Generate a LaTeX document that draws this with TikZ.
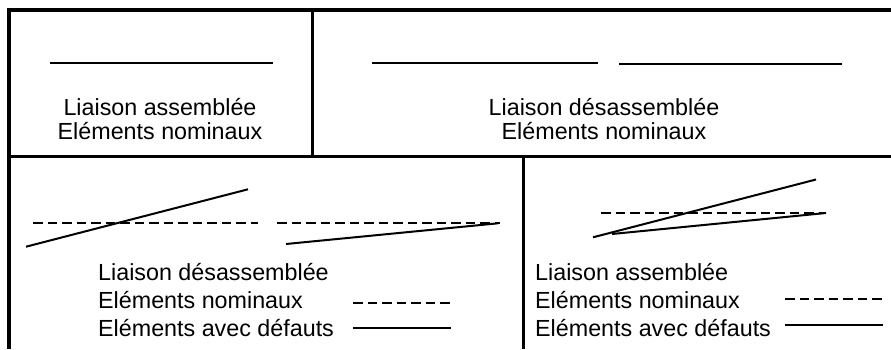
\documentclass[tikz,border=0pt]{standalone}
\usepackage{fontspec}
\setmainfont{Liberation Sans}
\begin{document}
\begin{tikzpicture}[x=1pt,y=-1pt,
  frame/.style={line width=3.2pt},
  divider/.style={line width=3pt},
  shaft/.style={line width=2pt},
  nominal/.style={line width=2pt, dash pattern=on 9.5pt off 5pt},
  lbl/.style={inner sep=0pt, font=\fontsize{23.3}{24}\selectfont},
  leg/.style={lbl, anchor=base west}
]
\useasboundingbox (0,0) rectangle (891,349);
\clip (0,0) rectangle (891,349);
% frame and dividers
\draw[frame] (9,349) -- (9,10) -- (891,10);
\draw[divider] (9,156) -- (891,156);
\draw[divider] (312,10) -- (312,156);
\draw[divider] (523,156) -- (523,349);

% top-left cell
\draw[shaft] (50,63) -- (273,63);
\node[lbl, anchor=base] (tl1) at (160,115) {Liaison assemblée};
\node[lbl, anchor=base] (tl2) at (160,139) {Eléments nominaux};

% top-right cell
\draw[shaft] (372,63) -- (598,63);
\draw[shaft] (619,64) -- (842,64);
\node[lbl, anchor=base] (tr1) at (604,115) {Liaison désassemblée};
\node[lbl, anchor=base] (tr2) at (604,139) {Eléments nominaux};

% bottom-left cell
\draw[nominal] (33,222.7) -- (258,222.7);
\draw[nominal] (277,222.7) -- (500,222.7);
\draw[shaft] (26,246.7) -- (248,189.3);
\draw[shaft] (286,244) -- (498,223.3);
\node[leg] (bl1) at (98,280) {Liaison désassemblée};
\node[leg] (bl2) at (98,308) {Eléments nominaux};
\node[leg] (bl3) at (98,336) {Eléments avec défauts};
\draw[nominal] (353,302.7) -- (451,302.7);
\draw[shaft] (353,328.3) -- (451,328.3);

% bottom-right cell
\draw[nominal] (601,213.3) -- (825,213.3);
\draw[shaft] (593,237.3) -- (816,179.5);
\draw[shaft] (612,234) -- (826,213);
\node[leg] (br1) at (535,280) {Liaison assemblée};
\node[leg] (br2) at (535,308) {Eléments nominaux};
\node[leg] (br3) at (535,336) {Eléments avec défauts};
\draw[nominal] (785,299.3) -- (883,299.3);
\draw[shaft] (785,325) -- (883,325);
\end{tikzpicture}
\end{document}
